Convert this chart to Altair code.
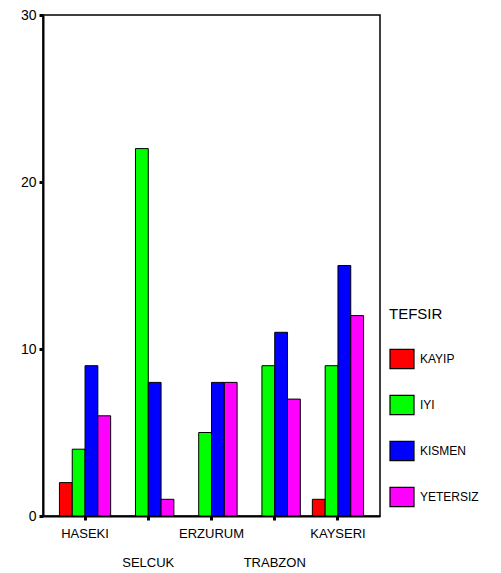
import altair as alt
import pandas as pd

hospitals = ["HASEKI", "SELCUK", "ERZURUM", "TRABZON", "KAYSERI"]
categories = ["KAYIP", "IYI", "KISMEN", "YETERSIZ"]
colors = ["#FF0000", "#00FF00", "#0000FF", "#FF00FF"]

kayip = [2, None, None, None, 1]
iyi = [4, 22, 5, 9, 9]
kismen = [9, 8, 8, 11, 15]
yetersiz = [6, 1, 8, 7, 12]

series = {"KAYIP": kayip, "IYI": iyi, "KISMEN": kismen, "YETERSIZ": yetersiz}
rows = []
for cat, vals in series.items():
    for h, v in zip(hospitals, vals):
        if v is not None:
            rows.append({"HASTANE": h, "TEFSIR": cat, "count": v})
df = pd.DataFrame(rows)

second_row = [h for i, h in enumerate(hospitals) if i % 2 == 1]
label_expr = "indexof(" + str(second_row) + ", datum.value) >= 0 ? ['', datum.label] : datum.label"

FONT = "Liberation Sans"

chart = alt.Chart(df).mark_bar(stroke="black", strokeWidth=1).encode(
    x=alt.X("HASTANE:N", sort=hospitals,
            scale=alt.Scale(paddingInner=0.19, paddingOuter=0.26),
            axis=alt.Axis(title=None, labelAngle=0, labelExpr=label_expr,
                          labelFont=FONT, labelFontSize=13, labelColor="black",
                          labelLineHeight=29, labelPadding=7,
                          tickSize=4, tickWidth=3, tickColor="black",
                          domainColor="black", domainWidth=2)),
    xOffset=alt.XOffset("TEFSIR:N", sort=categories,
                        scale=alt.Scale(paddingInner=0, paddingOuter=0)),
    y=alt.Y("count:Q", scale=alt.Scale(domain=[0, 30], nice=False),
            axis=alt.Axis(title=None, values=[0, 10, 20, 30], grid=False,
                          labelFont=FONT, labelFontSize=14, labelColor="black",
                          labelPadding=3, tickSize=4, tickWidth=3, tickColor="black",
                          domainColor="black", domainWidth=2)),
    color=alt.Color("TEFSIR:N", sort=categories,
                    scale=alt.Scale(domain=categories, range=colors),
                    legend=alt.Legend(title="TEFSIR", orient="none",
                                      legendX=346, legendY=292,
                                      titleFont=FONT, titleFontSize=15,
                                      titleFontWeight="normal", titleColor="black",
                                      titlePadding=24,
                                      labelFont=FONT, labelFontSize=12, labelColor="black",
                                      symbolType="M-1,-0.8H1V0.8H-1Z", symbolSize=576,
                                      symbolStrokeColor="black", symbolStrokeWidth=1.2,
                                      symbolOpacity=1,
                                      labelOffset=5, rowPadding=21)),
).properties(
    width=337, height=501,
    autosize=alt.AutoSizeParams(type="none"),
    padding={"left": 35, "top": 7, "right": 113, "bottom": 64},
).configure_view(stroke="black", strokeWidth=1.5)

chart.save("out.html", embed_options={"renderer": "svg", "actions": False})
